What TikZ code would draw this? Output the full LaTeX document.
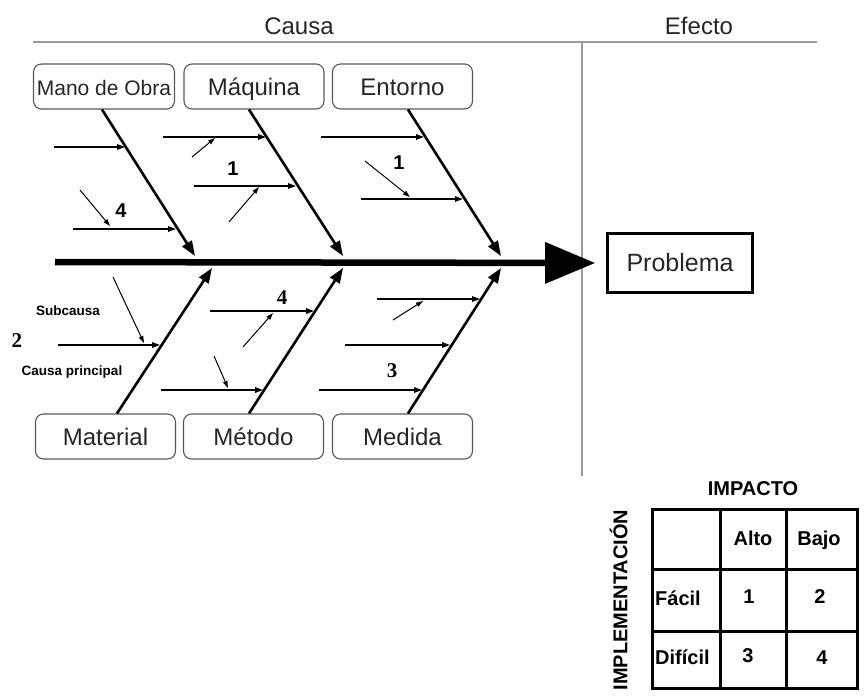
\documentclass[tikz,border=0pt]{standalone}
\usepackage{fontspec}
\setmainfont{Liberation Sans}
\newfontfamily\numserif{Liberation Serif}
\usetikzlibrary{arrows.meta,calc}

\begin{document}
\begin{tikzpicture}[x=1pt,y=-1pt,
  cat/.style={draw=black!65, line width=1.1pt, rounded corners=8pt,
    minimum width=140pt, minimum height=45pt, inner sep=0pt,
    text height=18.5pt, text depth=0pt,
    font=\fontsize{24}{24}\selectfont, text=black!85},
  bone/.style={line width=2.6pt, -{Triangle[length=15pt,width=11pt]}},
  sub/.style={line width=1.4pt, -{Triangle[length=8pt,width=5.5pt]}},
  subsub/.style={line width=1pt, -{Triangle[length=7pt,width=4.5pt]}},
  num/.style={font=\bfseries\fontsize{20}{20}\selectfont},
  snum/.style={font=\numserif\bfseries\fontsize{21}{21}\selectfont},
  note/.style={font=\bfseries\fontsize{13.5}{13.5}\selectfont},
  divider/.style={draw=black!40, line width=2.5pt},
  tab/.style={font=\bfseries\fontsize{20}{20}\selectfont, text height=14.5pt, text depth=4pt},
  head/.style={font=\fontsize{24}{24}\selectfont, text=black!85}
]
\useasboundingbox (0,0) rectangle (865,697);

% ---- header: cause / effect ----
\node[head] (causa) at (299,26) {Causa};
\node[head] (efecto) at (699,26) {Efecto};
\coordinate (hl) at (33,42);
\coordinate (hr) at (817,42);
\coordinate (vt) at (582,42);
\coordinate (vb) at (582,476);
\draw[divider] (hl) -- (hr);
\draw[divider, line width=2pt] (vt) -- (vb);

% ---- effect box and spine ----
\node[draw, line width=2.6pt, minimum width=145pt, minimum height=59pt,
      font=\fontsize{25}{25}\selectfont, text=black!85] (prob) at (680,263) {Problema};
\coordinate (tail) at (55,262);
\draw[line width=6.5pt, -{Triangle[length=50pt,width=40pt]}] (tail) -- ([xshift=-11pt]prob.west);

% ---- category boxes ----
\node[cat, minimum width=141pt, font=\fontsize{21}{21}\selectfont, text height=17pt] (mano) at (104,86.5) {Mano de Obra};
\node[cat] (maq) at (254,86.5) {Máquina};
\node[cat] (ent) at (402.5,86.5) {Entorno};
\node[cat] (mat) at (105.5,436.5) {Material};
\node[cat] (met) at (253.5,436.5) {Método};
\node[cat] (med) at (402.5,436.5) {Medida};

% ---- main bones ----
\coordinate (mano-tip) at (195,256);
\coordinate (maq-tip) at (343,256);
\coordinate (ent-tip) at (501,256);
\coordinate (mat-tip) at (212,268);
\coordinate (met-tip) at (343,268);
\coordinate (med-tip) at (501,268);
\draw[bone] ([xshift=-2pt]mano.south) -- (mano-tip);
\draw[bone] ([xshift=-5pt]maq.south) -- (maq-tip);
\draw[bone] ([xshift=5.5pt]ent.south) -- (ent-tip);
\draw[bone] ([xshift=11.5pt]mat.north) -- (mat-tip);
\draw[bone] ([xshift=-4.5pt]met.north) -- (met-tip);
\draw[bone] ([xshift=5.5pt]med.north) -- (med-tip);

% ---- Mano de Obra branches ----
\coordinate (mo1a) at (54,147);  \coordinate (mo1b) at (125,147);
\coordinate (mo2a) at (73,229);  \coordinate (mo2b) at (176,229);
\coordinate (mo3a) at (80,190);  \coordinate (mo3b) at (110,226);
\draw[sub] (mo1a) -- (mo1b);
\draw[sub] (mo2a) -- (mo2b);
\draw[subsub] (mo3a) -- (mo3b);
\node[num] (n-mo) at (121,211) {4};

% ---- Máquina branches ----
\coordinate (mq1a) at (163,137); \coordinate (mq1b) at (266,137);
\coordinate (mq2a) at (194,186); \coordinate (mq2b) at (296,186);
\coordinate (mq3a) at (192,157); \coordinate (mq3b) at (215,138);
\coordinate (mq4a) at (229,222); \coordinate (mq4b) at (259,187);
\draw[sub] (mq1a) -- (mq1b);
\draw[sub] (mq2a) -- (mq2b);
\draw[subsub] (mq3a) -- (mq3b);
\draw[subsub] (mq4a) -- (mq4b);
\node[num] (n-mq) at (233,169) {1};

% ---- Entorno branches ----
\coordinate (en1a) at (321,137); \coordinate (en1b) at (424,137);
\coordinate (en2a) at (361,199); \coordinate (en2b) at (463,199);
\coordinate (en3a) at (365,161); \coordinate (en3b) at (410,197);
\draw[sub] (en1a) -- (en1b);
\draw[sub] (en2a) -- (en2b);
\draw[subsub] (en3a) -- (en3b);
\node[num] (n-en) at (399,163) {1};

% ---- Material branches and legend ----
\coordinate (ma1a) at (58,345);  \coordinate (ma1b) at (160,345);
\coordinate (ma2a) at (113,277); \coordinate (ma2b) at (144,343);
\draw[sub] (ma1a) -- (ma1b);
\draw[subsub] (ma2a) -- (ma2b);
\node[note] (subcausa) at (68,311) {Subcausa};
\node[note] (principal) at (72,372) {Causa principal};
\node[snum] (n-ma) at (17,341) {2};

% ---- Método branches ----
\coordinate (me1a) at (210,311); \coordinate (me1b) at (314,311);
\coordinate (me2a) at (161,390); \coordinate (me2b) at (263,390);
\coordinate (me3a) at (243,347); \coordinate (me3b) at (273,313);
\coordinate (me4a) at (214,356); \coordinate (me4b) at (228,388);
\draw[sub] (me1a) -- (me1b);
\draw[sub] (me2a) -- (me2b);
\draw[subsub] (me3a) -- (me3b);
\draw[subsub] (me4a) -- (me4b);
\node[snum] (n-me) at (282,298) {4};

% ---- Medida branches ----
\coordinate (md1a) at (377,299); \coordinate (md1b) at (480,299);
\coordinate (md2a) at (345,345); \coordinate (md2b) at (450,345);
\coordinate (md3a) at (319,390); \coordinate (md3b) at (422,390);
\coordinate (md4a) at (393,320); \coordinate (md4b) at (423,301);
\draw[sub] (md1a) -- (md1b);
\draw[sub] (md2a) -- (md2b);
\draw[sub] (md3a) -- (md3b);
\draw[subsub] (md4a) -- (md4b);
\node[snum] (n-md) at (392,371) {3};

% ---- priority matrix ----
\coordinate (t-nw) at (652,509);
\coordinate (t-se) at (857,688);
\draw[line width=3pt] (t-nw) rectangle (t-se);
\draw[line width=3pt] (720,509) -- (720,688) (786,509) -- (786,688)
                      (652,569) -- (857,569) (652,631) -- (857,631);
\node[tab] (impacto) at (753,490) {IMPACTO};
\node[tab, rotate=90] (implem) at (622,600) {IMPLEMENTACIÓN};
\node[tab] (alto) at (753,540) {Alto};
\node[tab] (bajo) at (819,540) {Bajo};
\node[tab, anchor=west, inner xsep=0pt] (facil) at (655,600) {Fácil};
\node[tab, anchor=west, inner xsep=0pt] (dificil) at (655,659) {Difícil};
\node[tab] (c11) at (749,598) {1};
\node[tab] (c12) at (820,598) {2};
\node[tab] (c21) at (748,657) {3};
\node[tab] (c22) at (822,659) {4};
\end{tikzpicture}
\end{document}
